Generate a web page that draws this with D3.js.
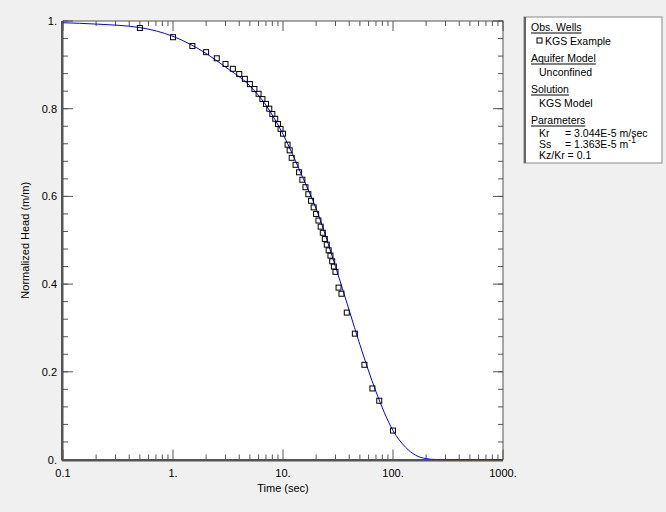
<!DOCTYPE html><html><head><script src="https://cdn.jsdelivr.net/npm/d3@7"></script>
<style>body{margin:0;background:#f0f0f0}text{font-family:Arial,"Liberation Sans",sans-serif}</style></head><body>
<svg id="c" width="666" height="512"></svg>
<script>
const obsTime=[0.5,1,1.5,2,2.5,3,3.5,4,4.5,5,5.5,6,6.5,7,7.5,8,8.5,9,9.5,10,11,11.5,12,13,14,15,16,17,18,19,20,21,22,23,24,25,26,27,28,29,30,32,34,38,45,55,65,75,100];
const obsHead=[0.984,0.963,0.943,0.929,0.915,0.902,0.891,0.879,0.868,0.856,0.845,0.834,0.822,0.811,0.800,0.788,0.777,0.765,0.754,0.743,0.718,0.705,0.688,0.672,0.655,0.638,0.621,0.605,0.590,0.575,0.560,0.545,0.531,0.517,0.503,0.490,0.477,0.465,0.452,0.440,0.428,0.392,0.378,0.335,0.287,0.216,0.162,0.134,0.066];
const modelTime=[0.1,0.2,0.5,1,2,3,5,7,10,15,20,30,40,50,70,100,130,160,200,250,400,700,1000];
const modelHead=[0.996,0.993,0.985,0.965,0.926,0.895,0.852,0.808,0.742,0.645,0.572,0.440,0.340,0.262,0.155,0.066,0.028,0.010,0.002,0,0,0,0];
const xTicks=[0.1,1,10,100,1000], xLabels=["0.1","1.","10.","100.","1000."];
const yTicks=[0,0.2,0.4,0.6,0.8,1], yLabels=["0.","0.2","0.4","0.6","0.8","1."];
const svg=d3.select("#c");
const L=63,R=503,T=21,B=459.5;
const x=d3.scaleLog().domain([0.1,1000]).range([L,R]);
const y=d3.scaleLinear().domain([0,1]).range([B,T]);
svg.append("rect").attr("x",L).attr("y",T).attr("width",R-L).attr("height",B-T).attr("fill","#fff");
const minorX=[];for(let d=0.1;d<1000;d*=10)for(let k=2;k<10;k++)minorX.push(d*k);
const minorY=d3.range(0,1.0001,0.04);
const g=svg.append("g").attr("stroke","#555").attr("stroke-width",1);
minorX.forEach(v=>{g.append("line").attr("x1",x(v)).attr("x2",x(v)).attr("y1",B).attr("y2",B-5);g.append("line").attr("x1",x(v)).attr("x2",x(v)).attr("y1",T).attr("y2",T+5);});
xTicks.forEach(v=>{g.append("line").attr("x1",x(v)).attr("x2",x(v)).attr("y1",B).attr("y2",B-10);g.append("line").attr("x1",x(v)).attr("x2",x(v)).attr("y1",T).attr("y2",T+10);});
minorY.forEach(v=>{g.append("line").attr("y1",y(v)).attr("y2",y(v)).attr("x1",L).attr("x2",L+5);g.append("line").attr("y1",y(v)).attr("y2",y(v)).attr("x1",R).attr("x2",R-5);});
yTicks.forEach(v=>{g.append("line").attr("y1",y(v)).attr("y2",y(v)).attr("x1",L).attr("x2",L+10);g.append("line").attr("y1",y(v)).attr("y2",y(v)).attr("x1",R).attr("x2",R-10);});
svg.append("rect").attr("x",L).attr("y",T).attr("width",R-L).attr("height",B-T).attr("fill","none").attr("stroke","#555");
svg.append("line").attr("x1",L-1).attr("x2",L-1).attr("y1",T).attr("y2",B+1).attr("stroke","#555").attr("stroke-width",2);
svg.append("line").attr("x1",L-1).attr("x2",R).attr("y1",B+1).attr("y2",B+1).attr("stroke","#555").attr("stroke-width",2);
xTicks.forEach((v,i)=>svg.append("text").attr("x",x(v)).attr("y",B+17).attr("text-anchor","middle").attr("font-size",11).text(xLabels[i]));
yTicks.forEach((v,i)=>svg.append("text").attr("x",L-6).attr("y",y(v)+4).attr("text-anchor","end").attr("font-size",11).text(yLabels[i]));
svg.append("text").attr("x",(L+R)/2).attr("y",B+32).attr("text-anchor","middle").attr("font-size",11).text("Time (sec)");
svg.append("text").attr("transform",`translate(29,${(T+B)/2}) rotate(-90)`).attr("text-anchor","middle").attr("font-size",11).text("Normalized Head (m/m)");
svg.append("clipPath").attr("id","cl").append("rect").attr("x",L).attr("y",T-2).attr("width",R-L).attr("height",B-T+2);
svg.append("path").attr("clip-path","url(#cl)").attr("d",d3.line().x((d,i)=>x(modelTime[i])).y(d=>y(d)).curve(d3.curveMonotoneX)(modelHead)).attr("fill","none").attr("stroke","#0000ff").attr("stroke-width",1);
svg.append("g").selectAll("rect").data(obsHead).join("rect").attr("x",(d,i)=>x(obsTime[i])-2.5).attr("y",d=>y(d)-2.5).attr("width",5).attr("height",5).attr("fill","none").attr("stroke","#000").attr("stroke-width",1);
const lg=svg.append("g");
lg.append("rect").attr("x",524).attr("y",17).attr("width",138).attr("height",146).attr("fill","#fff").attr("stroke","#888");
lg.append("line").attr("x1",525).attr("x2",525).attr("y1",17).attr("y2",163).attr("stroke","#666").attr("stroke-width",2);
const fs=10.5;
const items=[["Obs. Wells",31,true],["KGS Example",45,false,true],["Aquifer Model",62,true],["Unconfined",76],["Solution",93,true],["KGS Model",107],["Parameters",124,true]];
items.forEach(([t,yy,h,sym])=>{const tx=lg.append("text").attr("x",h?531:(sym?545:539)).attr("y",yy).attr("font-size",fs).text(t);
 if(h){const w=tx.node().getComputedTextLength();lg.append("line").attr("x1",531).attr("x2",531+w).attr("y1",yy+2).attr("y2",yy+2).attr("stroke","#000");}
 if(sym)lg.append("rect").attr("x",537).attr("y",yy-7).attr("width",5).attr("height",5).attr("fill","none").attr("stroke","#000");});
const params=[["Kr","= 3.044E-5 m/sec",137],["Ss","= 1.363E-5 m",148],["Kz/Kr = 0.1","",159]];
params.forEach(([a,b,yy])=>{lg.append("text").attr("x",539).attr("y",yy).attr("font-size",fs).text(a);
 if(b){const t=lg.append("text").attr("x",565).attr("y",yy).attr("font-size",fs).text(b);if(a==="Ss")t.append("tspan").attr("dy",-5).attr("font-size",8.5).text("-1");}});
</script></body></html>
